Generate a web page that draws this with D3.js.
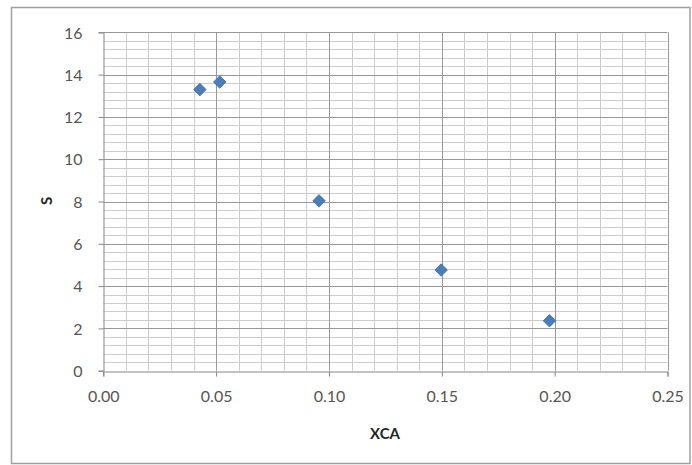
<!DOCTYPE html>
<html>
<head>
<meta charset="utf-8">
<script src="https://cdn.jsdelivr.net/npm/d3@7"></script>
<style>
html,body{margin:0;padding:0;background:#fff;}
svg{display:block;}
</style>
</head>
<body>
<svg id="chart" width="692" height="465"></svg>
<script>
const xcaValues = [0.0428, 0.0516, 0.0956, 0.1497, 0.1977];
const sValues = [13.29, 13.65, 8.03, 4.76, 2.36];
const xTickValues = [0, 0.05, 0.10, 0.15, 0.20, 0.25];
const yTickValues = [0, 2, 4, 6, 8, 10, 12, 14, 16];
const xTitle = "XCA";
const yTitle = "S";

(function () {
const svg = d3.select("#chart");
const pL = 103.3, pR = 667.5, pT = 32.3, pB = 370.7;
const FONT = "Lato, Carlito, 'Liberation Sans', sans-serif";

// outer frame
svg.append("rect").attr("x", 11.5).attr("y", 7.5).attr("width", 678.5).attr("height", 456)
  .attr("fill", "#fff").attr("stroke", "#a0a0a0").attr("stroke-width", 1.5);

const x = d3.scaleLinear().domain([0, 0.25]).range([pL, pR]);
const y = d3.scaleLinear().domain([0, 16]).range([pB, pT]);

const grid = svg.append("g");
// minor grid
const xMinor = d3.range(0, 26).map(i => i * 0.01).filter(v => Math.round(v * 100) % 5 !== 0);
const yMinor = d3.range(0, 41).map(i => i * 0.4).filter(v => Math.abs(v / 2 - Math.round(v / 2)) > 1e-6);
grid.selectAll(".xm").data(xMinor).join("line")
  .attr("x1", d => Math.round(x(d)) + 0.5).attr("x2", d => Math.round(x(d)) + 0.5)
  .attr("y1", pT).attr("y2", pB).attr("stroke", "#cccccc").attr("stroke-width", 1);
grid.selectAll(".ym").data(yMinor).join("line")
  .attr("y1", d => Math.round(y(d)) + 0.5).attr("y2", d => Math.round(y(d)) + 0.5)
  .attr("x1", pL).attr("x2", pR).attr("stroke", "#cccccc").attr("stroke-width", 1);
// major grid
grid.selectAll(".xM").data(xTickValues.slice(1)).join("line")
  .attr("x1", d => Math.round(x(d)) + 0.5).attr("x2", d => Math.round(x(d)) + 0.5)
  .attr("y1", pT).attr("y2", pB).attr("stroke", "#989898").attr("stroke-width", 1);
grid.selectAll(".yM").data(yTickValues.slice(1)).join("line")
  .attr("y1", d => Math.round(y(d)) + 0.5).attr("y2", d => Math.round(y(d)) + 0.5)
  .attr("x1", pL).attr("x2", pR).attr("stroke", "#989898").attr("stroke-width", 1);

// axes
const xAxis = d3.axisBottom(x).tickValues(xTickValues).tickFormat(d3.format(".2f")).tickSize(5).tickPadding(14);
const yAxis = d3.axisLeft(y).tickValues(yTickValues).tickFormat(d3.format("d")).tickSize(5).tickPadding(16);

const gx = svg.append("g").attr("transform", `translate(0,${Math.round(pB) + 0.5})`).call(xAxis);
const gy = svg.append("g").attr("transform", `translate(${Math.round(pL) + 0.5},0)`).call(yAxis);
[gx, gy].forEach(g => {
  g.select(".domain").attr("stroke", "#868686");
  g.selectAll(".tick line").attr("stroke", "#868686");
  g.selectAll(".tick text").attr("fill", "#555555")
    .style("font-family", FONT).style("font-size", "16px");
});
gy.selectAll(".tick text").attr("dy", "0.36em");

// titles
svg.append("text").attr("x", 385).attr("y", 439).attr("text-anchor", "middle")
  .style("font-family", FONT).style("font-size", "15px")
  .style("font-weight", "bold").attr("fill", "#262626").text(xTitle);
svg.append("text").attr("transform", "translate(52,201) rotate(-90)").attr("text-anchor", "middle")
  .style("font-family", FONT).style("font-size", "15px")
  .style("font-weight", "bold").attr("fill", "#262626").text(yTitle);

// points
const data = xcaValues.map((v, i) => ({x: v, y: sValues[i]}));
const sym = d3.symbol().type(d3.symbolDiamond2).size(100);
svg.append("g").selectAll("path").data(data).join("path")
  .attr("transform", d => `translate(${x(d.x)},${y(d.y)})`)
  .attr("d", sym)
  .attr("fill", "#4a7ebb").attr("stroke", "#3c6da8").attr("stroke-width", 0.8);
})();
</script>
</body>
</html>
